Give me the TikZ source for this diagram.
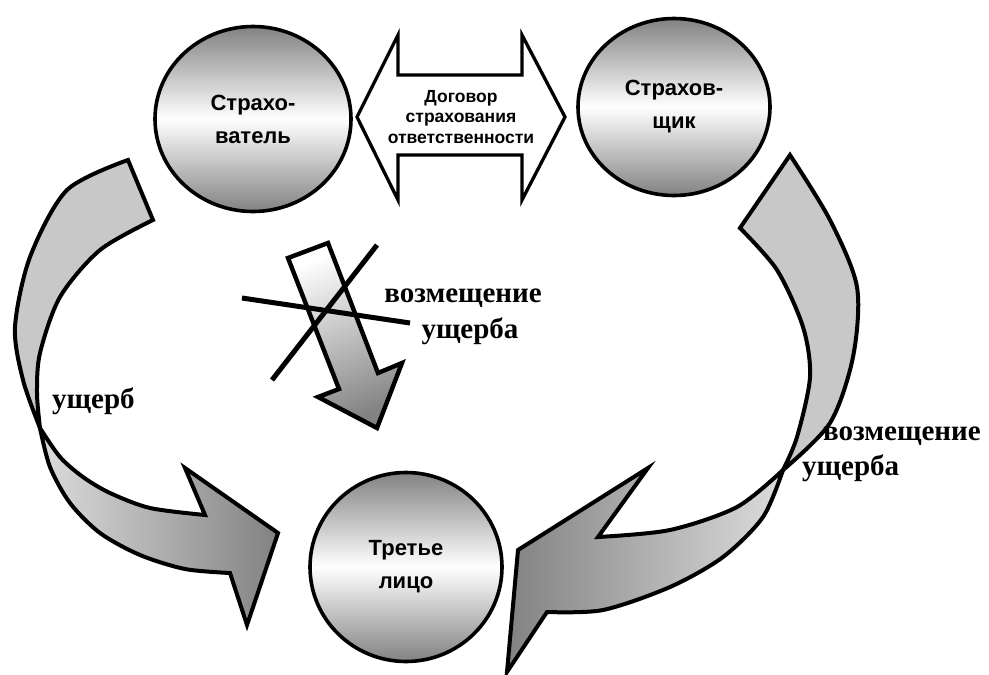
\documentclass[tikz,border=0pt]{standalone}
\usepackage{fontspec}
\setmainfont{Liberation Serif}
\setsansfont{Liberation Sans}
\usetikzlibrary{shapes.geometric, positioning}
\definecolor{ballgray}{HTML}{828282}
\definecolor{ribbongray}{HTML}{C8C8C8}
\definecolor{ribbonlight}{HTML}{DCDCDC}
\definecolor{ribbondark}{HTML}{828282}
\tikzset{
  party/.style={
    ellipse, draw=black, line width=3.6pt,
    top color=ballgray, bottom color=ballgray, middle color=white,
    align=center, inner sep=0pt,
    font=\sffamily\bfseries\fontsize{22}{33}\selectfont
  },
  ribbon/.style={line width=4pt, line join=miter},
  outline/.style={draw=black, line width=4pt, line join=miter},
  strike/.style={draw=black, line width=5pt},
  dmg/.style={
    inner sep=0pt, font=\bfseries\fontsize{29}{35}\selectfont
  },
  deal/.style={
    align=center, inner sep=0pt,
    font=\sffamily\bfseries\fontsize{17.5}{20.5}\selectfont
  }
}
\begin{document}
\begin{tikzpicture}[x=1pt, y=-1pt]
  \useasboundingbox (0,0) rectangle (989,675);

  % parties
  \node[party, minimum width=196pt, minimum height=185pt] (insured)
    at (253,119) {Страхо-\\ватель};
  \node[party, minimum width=192pt, minimum height=177pt] (insurer)
    at (674,107) {Страхов-\\щик};
  \node[party, minimum width=192pt, minimum height=189pt] (third)
    at (406,567) {Третье\\лицо};

  % contract
  \draw[outline, line width=3.3pt, fill=white] (357,117) -- (398,35)
    -- (398,75) -- (522,75) -- (522,35) -- (565,117) -- (522,200)
    -- (522,155) -- (398,155) -- (398,200) -- cycle;
  \node[deal] (contract) at (461,117)
    {Договор\\страхования\\ответственности};

  % left ribbon: insured -> third
  \path[ribbon, fill=ribbongray, postaction={outline}]
    plot[smooth] coordinates {(128,160) (67,190) (30,257) (15,327) (23,380) (40,428)}
    -- plot[smooth] coordinates {(40,428) (37,393) (40,353) (60,297) (100,250) (153,220)}
    -- cycle;
  \path[ribbon, left color=ribbonlight, right color=ribbondark, postaction={outline}]
    plot[smooth] coordinates {(40,428) (60,457) (83,477) (110,493) (150,508) (205,515)}
    -- (185,468) -- (278,533) -- (247,625) -- (230,573)
    -- plot[smooth] coordinates {(230,573) (185,569) (140,555) (100,533) (70,503) (50,467) (40,428)}
    -- cycle;

  % right ribbon: insurer -> third
  \path[ribbon, fill=ribbongray, postaction={outline}]
    plot[smooth] coordinates {(790,155) (830,220) (857,287) (853,357) (830,423) (783,470)}
    -- plot[smooth] coordinates {(783,470) (797,437) (810,377) (803,327) (777,270) (740,228)}
    -- cycle;
  \path[ribbon, left color=ribbondark, right color=ribbonlight, postaction={outline}]
    plot[smooth] coordinates {(783,470) (737,507) (670,530) (598,537)}
    -- (648,468) -- (518,550) -- (507,672) -- (547,612)
    -- plot[smooth] coordinates {(547,612) (603,610) (670,587) (723,557) (763,517) (783,470)}
    -- cycle;

  % crossed out arrow
  \path[ribbon, top color=white, bottom color=ballgray, shading angle=21,
        postaction={outline, line width=4.4pt}]
    (288,258) -- (328,243) -- (378,373) -- (402,363) -- (377,428)
    -- (318,397) -- (339,389) -- cycle;
  \draw[strike] (242,298) -- (410,323);
  \draw[strike] (377,245) -- (272,380);

  % labels
  \node[dmg, anchor=base west] (loss) at (52,408) {ущерб};
  \node[dmg, anchor=base] (nocomp) at (463,302) {возмещение};
  \node[dmg, anchor=base] (nocompb) at (470,338) {ущерба};
  \node[dmg, anchor=base west] (comp) at (823,440) {возмещение};
  \node[dmg, anchor=base west] (compb) at (802,475) {ущерба};
\end{tikzpicture}
\end{document}
